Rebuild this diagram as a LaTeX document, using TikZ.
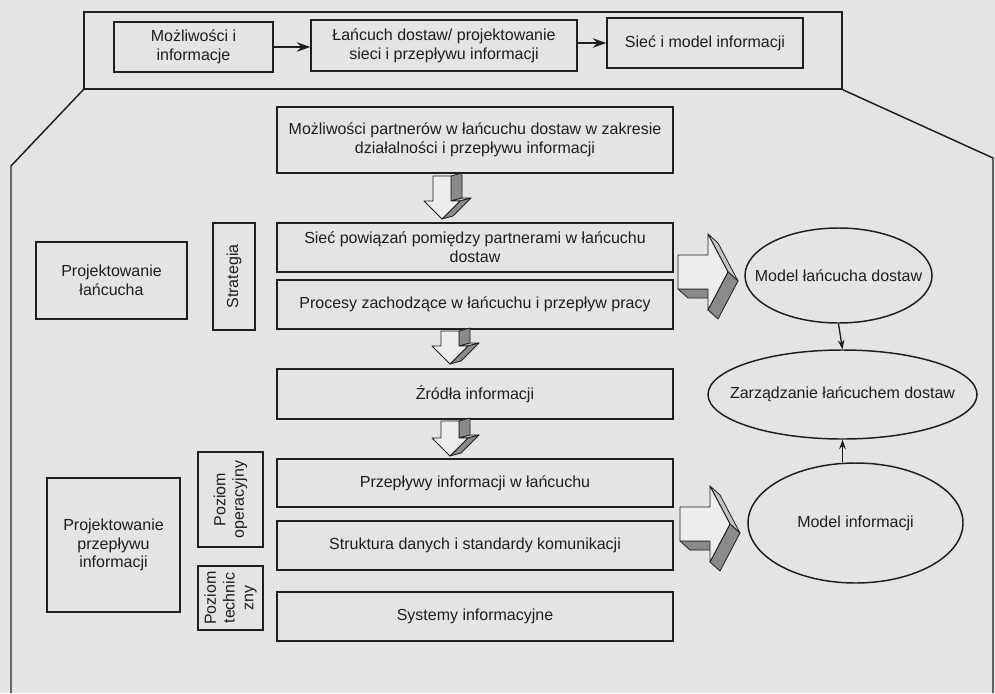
\documentclass[tikz,border=0pt]{standalone}
\usepackage{fontspec}
\setmainfont{Liberation Sans}
\usetikzlibrary{shapes.geometric,arrows.meta}

\definecolor{paper}{HTML}{E4E4E4}
\definecolor{ink}{HTML}{1E1E1E}
\definecolor{face}{HTML}{8A8A8A}
\definecolor{litface}{HTML}{C4C4C4}
\definecolor{front}{HTML}{EDEDED}

\tikzset{
  lbl/.style={font=\fontsize{12}{14}\selectfont, text=ink, align=center},
  box/.style={lbl, draw=ink, line width=1.1pt, rectangle, inner sep=2pt},
  sz/.style 2 args={minimum width=#1*0.75pt, minimum height=#2*0.75pt},
  oval/.style={draw=ink, line width=1.1pt, ellipse, inner sep=0pt},
  frameline/.style={draw=ink, line width=1.1pt},
  bigarrow/.style={draw=ink, line width=1.8pt, -{Stealth[length=10pt,width=7pt]}},
  smallarrow/.style={draw=ink, line width=1pt, -{Stealth[length=7pt,width=5pt]}},
  sideface/.style={fill=face, draw=ink, line width=0.6pt, line join=round},
  slimface/.style={fill=litface, draw=ink, line width=0.6pt, line join=round},
  frontface/.style={fill=front, draw=ink, line width=0.7pt, line join=round},
}

% block arrow pointing right, drawn with its depth faces
\newcommand{\rblock}[2]{%
  \begin{scope}[shift={(#1,#2)}]
    \filldraw[slimface] (30,-38) -- (50,0) -- (60,9) -- (40,-29) -- cycle;
    \filldraw[sideface] (0,17) -- (30,17) -- (40,26) -- (10,26) -- cycle;
    \filldraw[sideface] (50,0) -- (30,38) -- (40,47) -- (60,9) -- cycle;
    \filldraw[frontface] (0,-17) -- (30,-17) -- (30,-38) -- (50,0) -- (30,38)
      -- (30,17) -- (0,17) -- cycle;
  \end{scope}}

% block arrow pointing down; #3 is the shaft length
\newcommand{\dblock}[3]{%
  \begin{scope}[shift={(#1,#2)}]
    \filldraw[sideface] (9,0) -- (9,#3) -- (20,#3-3) -- (20,-3) -- cycle;
    \filldraw[slimface] (9,#3) -- (18,#3) -- (29,#3-3) -- (20,#3-3) -- cycle;
    \filldraw[sideface] (18,#3) -- (0,#3+18) -- (11,#3+15) -- (29,#3-3) -- cycle;
    \filldraw[frontface] (-9,0) -- (9,0) -- (9,#3) -- (18,#3) -- (0,#3+18)
      -- (-18,#3) -- (-9,#3) -- cycle;
  \end{scope}}

\begin{document}
\begin{tikzpicture}[x=0.75pt,y=-0.75pt]
  \useasboundingbox (0,0) rectangle (995,693);
  \fill[paper] (0,0) rectangle (995,693);

  % top band
  \node[box, sz={758}{77}] (topframe) at (463,50.5) {};
  \node[box, sz={159}{50}] (tb1) at (193.5,47) {Możliwości i\\informacje};
  \node[box, sz={266}{51}] (tb2) at (444,45.5) {Łańcuch dostaw/ projektowanie\\sieci i przepływu informacji};
  \node[box, sz={196}{50}] (tb3) at (705,43) {Sieć i model informacji};
  \draw[bigarrow] (tb1.east) -- (tb2.west |- tb1.east);
  \draw[bigarrow] (tb2.east |- tb3.west) -- (tb3.west);

  % outline opening below the top band
  \coordinate (lbend) at (11,166);
  \coordinate (lfoot) at (11,693);
  \coordinate (rbend) at (993,158);
  \coordinate (rfoot) at (993,693);
  \draw[frameline] (topframe.south west) -- (lbend) -- (lfoot);
  \draw[frameline] (topframe.south east) -- (rbend) -- (rfoot);

  % central column
  \node[box, sz={396}{66}] (m1) at (475,140) {Możliwości partnerów w łańcuchu dostaw w zakresie\\działalności i przepływu informacji};
  \node[box, sz={396}{49}] (m2) at (475,247.5) {Sieć powiązań pomiędzy partnerami w łańcuchu\\dostaw};
  \node[box, sz={396}{49}] (m3) at (475,304.5) {Procesy zachodzące w łańcuchu i przepływ pracy};
  \node[box, sz={396}{50}] (m4) at (475,394) {Źródła informacji};
  \node[box, sz={396}{48}] (m5) at (475,483) {Przepływy informacji w łańcuchu};
  \node[box, sz={396}{49}] (m6) at (475,545.5) {Struktura danych i standardy komunikacji};
  \node[box, sz={396}{49}] (m7) at (475,616.5) {Systemy informacyjne};

  % left side
  \node[box, sz={151}{77}] (pl) at (111.5,280.5) {Projektowanie\\łańcucha};
  \node[box, rotate=90, sz={107}{42}] (strat) at (234,276.5) {Strategia};
  \node[box, sz={133}{134}] (pp) at (113.5,545) {Projektowanie\\przepływu\\informacji};
  \node[box, rotate=90, sz={95}{65}] (po) at (230.5,499.5) {Poziom\\operacyjny};
  \node[box, rotate=90, sz={64}{65}] (pt) at (230.5,598) {Poziom\\technic\\zny};

  % right side
  \node[oval, sz={187}{95}, label={[lbl]center:Model łańcucha dostaw}] (e1) at (838.5,275.5) {};
  \node[oval, sz={269}{89}, label={[lbl]center:Zarządzanie łańcuchem dostaw}] (e2) at (842.5,394.5) {};
  \node[oval, sz={215}{120}, label={[lbl]center:Model informacji}] (e3) at (855.5,523) {};
  \draw[smallarrow] (e1.south) -- (e2.north);
  \draw[smallarrow] (e2.south |- e3.north) -- (e2.south);

  % block arrows
  \dblock{442}{176}{25}
  \dblock{450}{331}{15}
  \dblock{450}{421}{17}
  \rblock{678}{272}
  \rblock{680}{524}
\end{tikzpicture}
\end{document}
